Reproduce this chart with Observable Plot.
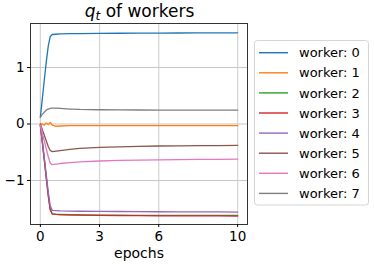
<!DOCTYPE html>
<html>
<head>
<meta charset="utf-8">
<script src="https://cdn.jsdelivr.net/npm/d3@7"></script>
<script src="https://cdn.jsdelivr.net/npm/@observablehq/plot@0.6"></script>
<style>
  html, body { margin: 0; padding: 0; background: #fff; }
  #chart svg { display: block; }
</style>
</head>
<body>
<div id="chart"></div>
<script>
const epochs = [0, 0.1, 0.2, 0.3, 0.4, 0.5, 0.6, 0.8, 1, 1.5, 2, 3, 4, 5, 6, 7, 8, 9, 10];

const workers = ["worker: 0", "worker: 1", "worker: 2", "worker: 3", "worker: 4", "worker: 5", "worker: 6", "worker: 7"];
const colors = ["#1f77b4", "#ff7f0e", "#2ca02c", "#d62728", "#9467bd", "#8c564b", "#e377c2", "#7f7f7f"];

const worker0 = [0.12, 0.45, 0.78, 1.10, 1.38, 1.55, 1.585, 1.59, 1.595, 1.60, 1.602, 1.605, 1.607, 1.609, 1.61, 1.612, 1.613, 1.614, 1.615];
const worker1 = [0.0, 0.0, -0.02, 0.02, -0.01, 0.03, -0.02, -0.04, -0.035, -0.03, -0.03, -0.03, -0.03, -0.03, -0.03, -0.03, -0.03, -0.03, -0.03];
const worker2 = [-0.02, -0.32, -0.63, -0.95, -1.26, -1.51, -1.595, -1.60, -1.603, -1.607, -1.61, -1.613, -1.615, -1.617, -1.618, -1.619, -1.62, -1.62, -1.62];
const worker3 = [-0.02, -0.32, -0.64, -0.96, -1.27, -1.52, -1.59, -1.60, -1.605, -1.61, -1.615, -1.62, -1.622, -1.624, -1.626, -1.627, -1.628, -1.629, -1.63];
const worker4 = [-0.02, -0.30, -0.60, -0.90, -1.20, -1.45, -1.53, -1.535, -1.54, -1.543, -1.545, -1.548, -1.55, -1.552, -1.554, -1.555, -1.557, -1.558, -1.56];
const worker5 = [0.0, -0.10, -0.20, -0.30, -0.40, -0.47, -0.49, -0.48, -0.47, -0.45, -0.43, -0.415, -0.405, -0.397, -0.39, -0.387, -0.384, -0.382, -0.38];
const worker6 = [-0.02, -0.16, -0.30, -0.44, -0.58, -0.69, -0.72, -0.71, -0.70, -0.685, -0.67, -0.655, -0.645, -0.64, -0.635, -0.63, -0.628, -0.625, -0.622];
const worker7 = [0.12, 0.17, 0.21, 0.245, 0.265, 0.275, 0.28, 0.28, 0.275, 0.265, 0.258, 0.252, 0.25, 0.248, 0.247, 0.246, 0.245, 0.245, 0.244];

const series = [worker0, worker1, worker2, worker3, worker4, worker5, worker6, worker7];

const xTicks = [0, 3, 6, 10];
const yTicks = [-1, 0, 1];

const data = [];
series.forEach((vals, i) => {
  vals.forEach((v, j) => data.push({worker: workers[i], epoch: epochs[j], q: v}));
});

const W = 374, H = 265;
const mL = 30, mR = 127, mT = 23, mB = 41;

function titleMark(index, scales, values, dimensions) {
  const g = d3.create("svg:g");
  const cx = (dimensions.marginLeft + dimensions.width - dimensions.marginRight) / 2 + 1;
  const t = g.append("text")
    .attr("x", cx).attr("y", 17)
    .attr("text-anchor", "middle")
    .attr("font-size", 17)
    .attr("fill", "#000")
    .attr("font-family", "DejaVu Sans");
  t.append("tspan").attr("font-style", "italic").text("q");
  t.append("tspan").attr("font-size", 12).attr("font-style", "italic").attr("dy", 3).text("t");
  t.append("tspan").attr("dy", -3).text(" of workers");
  return g.node();
}

function legendMark(index, scales, values, dimensions) {
  const g = d3.create("svg:g")
    .attr("font-family", "DejaVu Sans")
    .attr("font-size", 13)
    .attr("text-anchor", "start");
  const x0 = dimensions.width - dimensions.marginRight + 7.5;
  const y0 = 40.5;
  const rowH = 20.1;
  g.append("rect")
    .attr("x", x0).attr("y", y0)
    .attr("width", 114).attr("height", 164.5)
    .attr("rx", 3)
    .attr("fill", "#fff")
    .attr("stroke", "#d5d5d5");
  workers.forEach((w, i) => {
    const y = y0 + 12.2 + i * rowH;
    g.append("line")
      .attr("x1", x0 + 4.5).attr("x2", x0 + 33.5)
      .attr("y1", y).attr("y2", y)
      .attr("stroke", scales.color(w))
      .attr("stroke-width", 1.4);
    g.append("text")
      .attr("x", x0 + 44.5).attr("y", y)
      .attr("dy", "0.36em")
      .attr("text-anchor", "start")
      .attr("fill", "#000")
      .text(w);
  });
  return g.node();
}

const chart = Plot.plot({
  width: W,
  height: H,
  marginLeft: mL,
  marginRight: mR,
  marginTop: mT,
  marginBottom: mB,
  style: {fontFamily: "DejaVu Sans", fontSize: "13.5px", color: "#000", background: "#fff"},
  x: {domain: [-0.5, 10.5]},
  y: {domain: [-1.78, 1.78]},
  color: {domain: workers, range: colors},
  marks: [
    Plot.gridX(xTicks, {stroke: "#d6d6d6", strokeOpacity: 1, strokeWidth: 1.3}),
    Plot.gridY(yTicks, {stroke: "#c8c8c8", strokeOpacity: 1, strokeWidth: 1.1}),
    Plot.line(data, {x: "epoch", y: "q", z: "worker", stroke: "worker", strokeWidth: 1.3}),
    Plot.frame({stroke: "#333", strokeWidth: 1}),
    Plot.axisX(xTicks, {label: null, tickSize: 3, tickPadding: 4, fontSize: 13.5}),
    Plot.axisY(yTicks, {label: null, tickSize: 3, tickPadding: 3, fontSize: 13.5, tickFormat: d => d < 0 ? "\u2212" + Math.abs(d) : String(d)}),
    Plot.text(["epochs"], {text: d => d, frameAnchor: "bottom", dy: 33, fontSize: 14, fill: "#000"}),
    titleMark,
    legendMark
  ]
});

document.getElementById("chart").appendChild(chart);
</script>
</body>
</html>
